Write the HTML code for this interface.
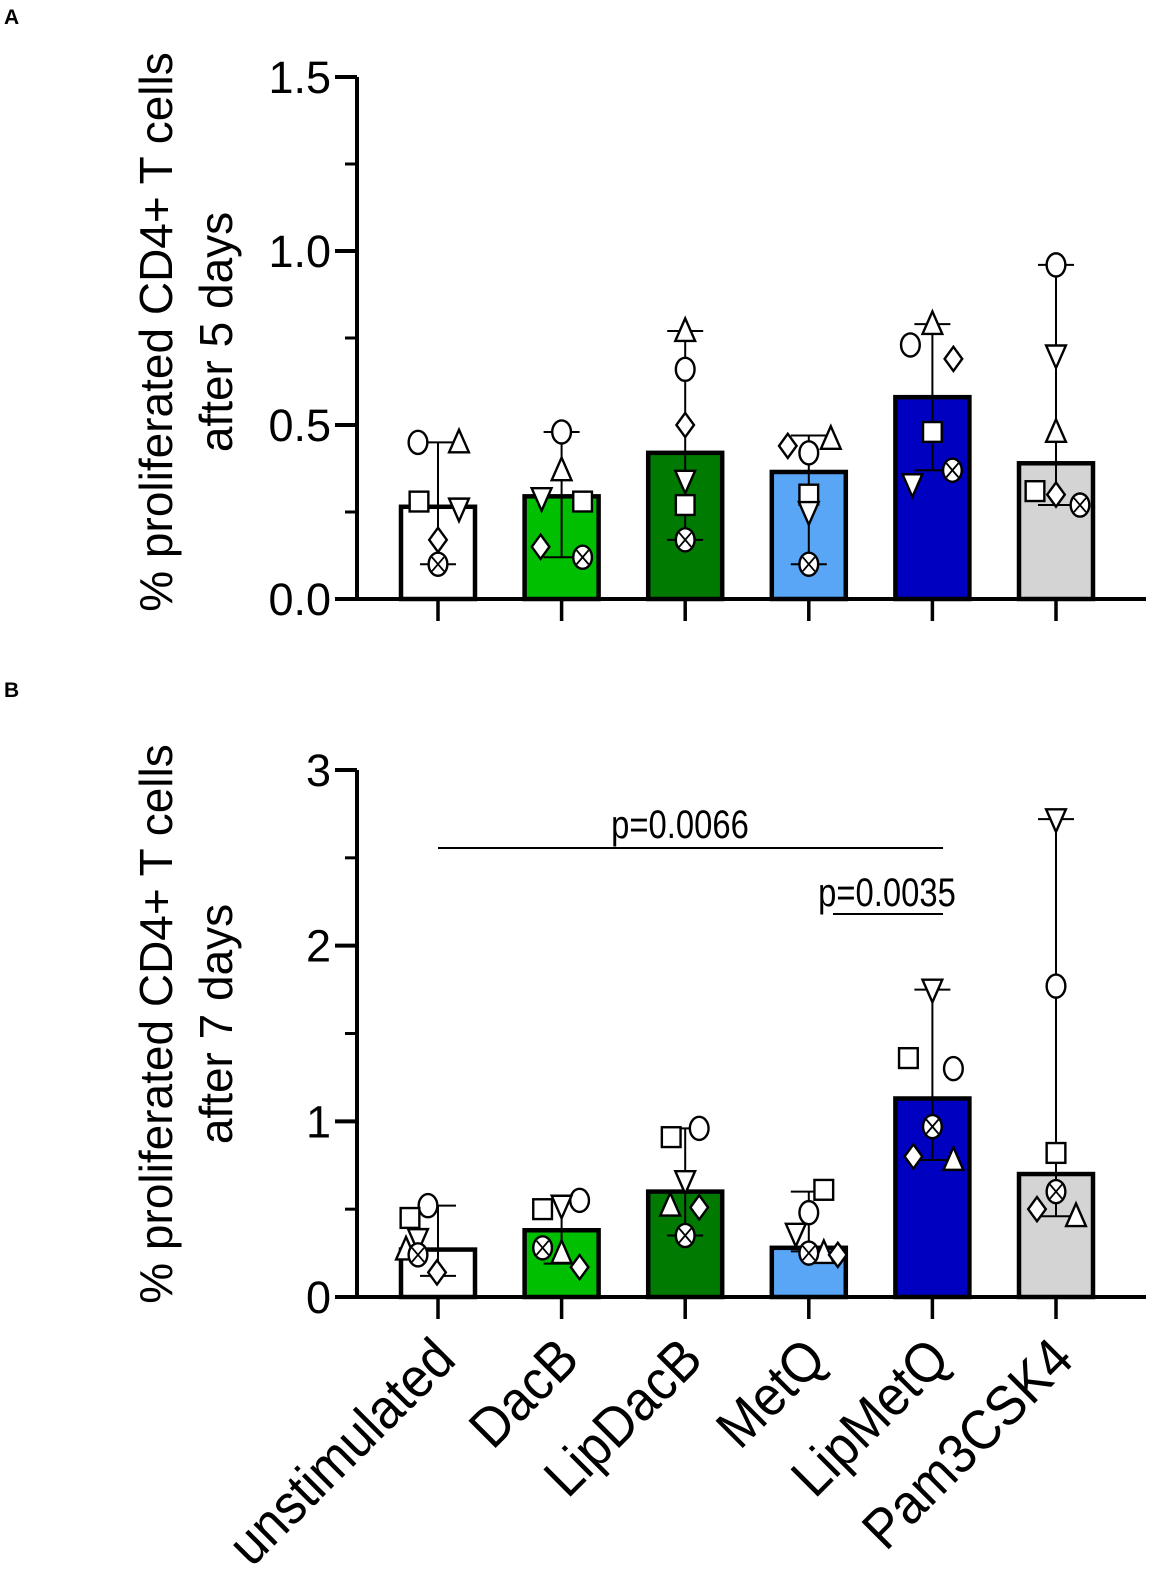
<!DOCTYPE html>
<html><head><meta charset="utf-8">
<style>
html,body{margin:0;padding:0;background:#fff;}
svg{display:block;font-family:"Liberation Sans",Arial,sans-serif;}
</style></head>
<body>
<svg id="chart" width="1165" height="1578" viewBox="0 0 1165 1578" xmlns="http://www.w3.org/2000/svg">
<text x="4" y="24" font-size="21" font-weight="bold">A</text>
<text x="4" y="697" font-size="21" font-weight="bold">B</text>
<g id="pa"></g>
<g id="pb"></g>
</svg>
<script>
const categories = ["unstimulated","DacB","LipDacB","MetQ","LipMetQ","Pam3CSK4"];
const barColors = ["#ffffff","#00bf00","#007a00","#58a6f5","#0000c0","#d4d4d4"];
const shapes = ["circle","triangle","square","invtri","diamond","cx"];

// Panel A (day 5)
const meanA = [0.265,0.295,0.42,0.365,0.58,0.39];
const errLoA = [0.10,0.12,0.17,0.10,0.37,0.27];
const errHiA = [0.45,0.48,0.77,0.47,0.79,0.96];
const ptsA = [ // order: circle, triangle, square, invtri, diamond, cx
 [0.45,0.45,0.28,0.26,0.17,0.10],
 [0.48,0.37,0.28,0.29,0.15,0.12],
 [0.66,0.77,0.27,0.34,0.50,0.17],
 [0.42,0.46,0.30,0.25,0.44,0.10],
 [0.73,0.79,0.48,0.33,0.69,0.37],
 [0.96,0.48,0.31,0.70,0.30,0.27]];
const jitA = [[-20,21,-19,21,0,0],[0,0,21,-20,-21,21],[0,0,0,0,0,0],[0,22,0,0,-21,0],[-22,0,0,-20,21,20],[0,0,-21,0,0,24]];
const ticksA = ["0.0","0.5","1.0","1.5"];
const tickValsA = [0,0.5,1.0,1.5];

// Panel B (day 7)
const meanB = [0.27,0.38,0.60,0.28,1.13,0.70];
const errLoB = [0.12,0.19,0.35,0.26,0.78,0.46];
const errHiB = [0.52,0.55,0.96,0.60,1.75,2.72];
const ptsB = [
 [0.52,0.27,0.45,0.33,0.14,0.24],
 [0.55,0.25,0.50,0.52,0.17,0.28],
 [0.96,0.52,0.91,0.66,0.51,0.35],
 [0.48,0.25,0.61,0.36,0.24,0.25],
 [1.30,0.78,1.36,1.75,0.80,0.97],
 [1.77,0.46,0.82,2.72,0.50,0.60]];
const jitB = [[-10,-32,-28,-20,-1,-20],[18,0,-19,0,18,-19],[14,-15,-14,0,14,0],[0,15,15,-13,29,0],[21,21,-24,0,-19,0],[0,20,0,0,-19,0]];
const ticksB = ["0","1","2","3"];
const tickValsB = [0,1,2,3];

const NS="http://www.w3.org/2000/svg";
function mk(parent,tag,attrs){const e=document.createElementNS(NS,tag);for(const k in attrs)e.setAttribute(k,attrs[k]);parent.appendChild(e);return e;}
const X0=438, DX=123.6;
function xPos(i){return X0+i*DX;}

function marker(g,shape,x,y){
  const s=11; const st={fill:"#fff",stroke:"#000","stroke-width":2.4};
  let e;
  if(shape==="circle"){e=mk(g,"ellipse",Object.assign({cx:x,cy:y,rx:s*0.85,ry:s*1.05},st));}
  else if(shape==="square"){e=mk(g,"rect",Object.assign({x:x-s*0.85,y:y-s*0.9,width:s*1.7,height:s*1.8},st));}
  else if(shape==="triangle"){e=mk(g,"polygon",Object.assign({points:`${x},${y-s*1.15} ${x-s*0.9},${y+s*0.9} ${x+s*0.9},${y+s*0.9}`},st));}
  else if(shape==="invtri"){e=mk(g,"polygon",Object.assign({points:`${x},${y+s*1.15} ${x-s*0.9},${y-s*0.9} ${x+s*0.9},${y-s*0.9}`},st));}
  else if(shape==="diamond"){e=mk(g,"polygon",Object.assign({points:`${x},${y-s*1.1} ${x+s*0.8},${y} ${x},${y+s*1.1} ${x-s*0.8},${y}`},st));}
  else {e=mk(g,"ellipse",Object.assign({cx:x,cy:y,rx:s*0.85,ry:s*1.05},st));
    mk(g,"line",{x1:x-6,y1:y-7,x2:x+6,y2:y+7,stroke:"#000","stroke-width":1.8});
    mk(g,"line",{x1:x+6,y1:y-7,x2:x-6,y2:y+7,stroke:"#000","stroke-width":1.8});}
  
  
}

function panel(gid,cfg){
  const g=document.getElementById(gid);
  const y=v=>cfg.y0-(v-cfg.vmin)/(cfg.vmax-cfg.vmin)*(cfg.y0-cfg.ytop);
  categories.forEach((c,i)=>{
    const bx=xPos(i);
    const r=mk(g,"rect",{x:bx-37,y:y(cfg.mean[i]),width:74,height:cfg.y0-y(cfg.mean[i]),fill:barColors[i],stroke:"#000","stroke-width":4.5});
    
    
  });
  categories.forEach((c,i)=>{
    const bx=xPos(i);
    const e=mk(g,"g",{stroke:"#000","stroke-width":2});
    
    
    mk(e,"line",{x1:bx,x2:bx,y1:y(cfg.lo[i]),y2:y(cfg.hi[i])});
    mk(e,"line",{x1:bx-18,x2:bx+18,y1:y(cfg.lo[i]),y2:y(cfg.lo[i])});
    mk(e,"line",{x1:bx-18,x2:bx+18,y1:y(cfg.hi[i]),y2:y(cfg.hi[i])});
  });
  categories.forEach((c,i)=>{
    cfg.pts[i].forEach((v,k)=>marker(g,shapes[k],xPos(i)+cfg.jit[i][k],y(v)));
  });
  const ax=mk(g,"line",{x1:cfg.axX,x2:cfg.axX,y1:cfg.ytop,y2:cfg.y0+2,stroke:"#000","stroke-width":4});
  
  
  const xa=mk(g,"line",{x1:cfg.axX-2,x2:1146,y1:cfg.y0,y2:cfg.y0,stroke:"#000","stroke-width":4});
  
  
  cfg.tickVals.forEach((v,k)=>{
    mk(g,"line",{x1:cfg.axX-22,x2:cfg.axX,y1:y(v),y2:y(v),stroke:"#000","stroke-width":4});
    const t=mk(g,"text",{x:cfg.axX-26,y:y(v)+16,"text-anchor":"end","font-size":45});
    t.textContent=cfg.ticks[k];
    
    
    if(k<cfg.tickVals.length-1){const m=(v+cfg.tickVals[k+1])/2;
      mk(g,"line",{x1:cfg.axX-12,x2:cfg.axX,y1:y(m),y2:y(m),stroke:"#000","stroke-width":3});}
  });
  categories.forEach((c,i)=>mk(g,"line",{x1:xPos(i),x2:xPos(i),y1:cfg.y0,y2:cfg.y0+22,stroke:"#000","stroke-width":3.5}));
  const cy=cfg.titleY;
  const tt=mk(g,"text",{transform:`translate(172,${cy}) rotate(-90)`,"text-anchor":"middle","font-size":46});
  tt.textContent="% proliferated CD4+ T cells";
  
  
  const t2=mk(g,"text",{transform:`translate(232,${cy}) rotate(-90)`,"text-anchor":"middle","font-size":46});
  t2.textContent=cfg.sub;
  
  
  return y;
}

panel("pa",{y0:599,ytop:77,vmin:0,vmax:1.5,axX:357,titleY:332,mean:meanA,lo:errLoA,hi:errHiA,pts:ptsA,jit:jitA,ticks:ticksA,tickVals:tickValsA,sub:"after 5 days"});
panel("pb",{y0:1297,ytop:770,vmin:0,vmax:3,axX:357,titleY:1024,mean:meanB,lo:errLoB,hi:errHiB,pts:ptsB,jit:jitB,ticks:ticksB,tickVals:tickValsB,sub:"after 7 days"});

const pb=document.getElementById("pb");
const s1=mk(pb,"line",{x1:xPos(0),x2:943,y1:848,y2:848,stroke:"#000","stroke-width":2});


const p1=mk(pb,"text",{x:680,y:838,"text-anchor":"middle","font-size":40,transform:"translate(680,0) scale(0.82,1) translate(-680,0)"});
p1.textContent="p=0.0066";


const s2=mk(pb,"line",{x1:833,x2:943,y1:914,y2:914,stroke:"#000","stroke-width":2});


const p2=mk(pb,"text",{x:887,y:906,"text-anchor":"middle","font-size":40,transform:"translate(887,0) scale(0.82,1) translate(-887,0)"});
p2.textContent="p=0.0035";



categories.forEach((c,i)=>{
  const x=xPos(i)+20, y=1362;
  const t=mk(pb,"text",{transform:`translate(${x},${y}) rotate(-45) scale(1.03,1.12)`,"text-anchor":"end","font-size":50});
  t.textContent=c;
  
  
});
</script>
</body></html>
